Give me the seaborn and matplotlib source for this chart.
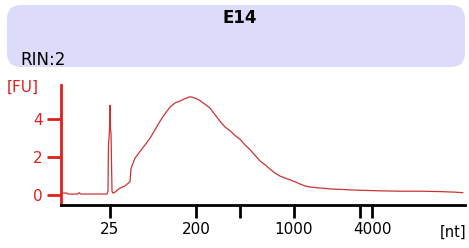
import matplotlib
matplotlib.use("Agg")
import matplotlib.pyplot as plt
import seaborn as sns
import pandas as pd
from matplotlib.patches import FancyBboxPatch
from matplotlib.transforms import IdentityTransform

# electropherogram trace: migration time [s] and fluorescence [FU]
time_s = [18.1, 18.3, 18.7, 18.8, 19.8, 19.9, 20.1, 22.7, 22.8, 22.85, 22.9, 22.95,
          23.0, 23.05, 23.1, 23.2, 23.3, 23.5, 24.0, 24.5, 25.0, 25.1, 25.5, 26.0,
          26.5, 27.0, 27.5, 28.0, 28.5, 29.0, 29.5, 30.0, 30.5, 31.0, 31.5, 32.0,
          32.5, 33.0, 33.5, 34.0, 34.5, 35.0, 35.5, 36.0, 36.5, 37.0, 37.5, 38.0,
          38.5, 39.0, 39.5, 40.0, 40.5, 41.0, 41.5, 42.0, 42.5, 43.0, 44.0, 45.0,
          46.0, 47.0, 48.0, 50.0, 52.0, 54.0, 56.0, 57.5, 58.3]
fu = [0.05, 0.10, 0.10, 0.05, 0.05, 0.12, 0.05, 0.05, 0.2, 2.7, 3.0, 3.5,
      4.75, 3.5, 3.3, 0.2, 0.1, 0.15, 0.37, 0.48, 0.7, 1.4, 1.95, 2.3,
      2.65, 3.0, 3.45, 3.9, 4.3, 4.65, 4.87, 4.97, 5.1, 5.2, 5.13, 5.0,
      4.8, 4.6, 4.25, 3.9, 3.6, 3.4, 3.15, 2.95, 2.65, 2.4, 2.1, 1.8,
      1.6, 1.37, 1.16, 1.0, 0.9, 0.8, 0.7, 0.58, 0.48, 0.42, 0.37, 0.32,
      0.3, 0.27, 0.25, 0.22, 0.2, 0.2, 0.18, 0.15, 0.12]

# ladder sizes and where they sit on the time axis
ladder_time = [23.0, 31.6, 36.0, 41.4, 48.0, 49.2]
ladder_labels = ["25", "200", "", "1000", "", "4000"]

sample = "E14"
rin = "RIN:2"

df = pd.DataFrame({"time": time_s, "FU": fu})

sns.set_style("white")
plt.rcParams["font.family"] = ["DejaVu Sans"]
plt.rcParams["text.color"] = "black"

fig = plt.figure(figsize=(4.69, 2.48), dpi=100)
red = "#e01e1e"

# header panel
box = FancyBboxPatch((7, 181), 458, 62, boxstyle="round,pad=0,rounding_size=14",
                     transform=IdentityTransform(), facecolor="#dcdcfa",
                     edgecolor="none", zorder=0)
fig.patches.append(box)
fig.text(240 / 469, 1 - 18 / 248, sample, ha="center", va="center",
         fontsize=12, fontweight="bold", color="black")
fig.text(20 / 469, 1 - 60 / 248, rin, ha="left", va="center", fontsize=12,
         color="black")

ax = fig.add_axes([61 / 469, 1 - 205 / 248, 404 / 469, 120 / 248])
ax.set_facecolor("none")
sns.lineplot(data=df, x="time", y="FU", ax=ax, color="#cc3333", lw=0.9,
             estimator=None, sort=False)

ax.set_xlim(18.1, 58.5)
ax.set_ylim(-0.53, 5.82)
ax.set_yticks([0, 2, 4])
ax.set_xticks(ladder_time)
ax.set_xticklabels(ladder_labels)
ax.set_xlabel("")
ax.set_ylabel("")

for s in ["top", "right"]:
    ax.spines[s].set_visible(False)
ax.spines["left"].set_color(red)
ax.spines["left"].set_linewidth(2)
ax.spines["bottom"].set_color("black")
ax.spines["bottom"].set_linewidth(2)

ax.tick_params(axis="y", colors=red, labelcolor=red, length=10, width=2,
               labelsize=11, pad=3, left=True)
ax.tick_params(axis="x", colors="black", labelcolor="black", length=9, width=2,
               labelsize=11, pad=3, bottom=True)

fig.text(7 / 469, 1 - 87 / 248, "[FU]", color=red, ha="left", va="center",
         fontsize=11)
fig.text(466 / 469, 1 - 232 / 248, "[nt]", ha="right", va="center",
         fontsize=10.5, color="black")

fig.savefig("out.png", dpi=100)
